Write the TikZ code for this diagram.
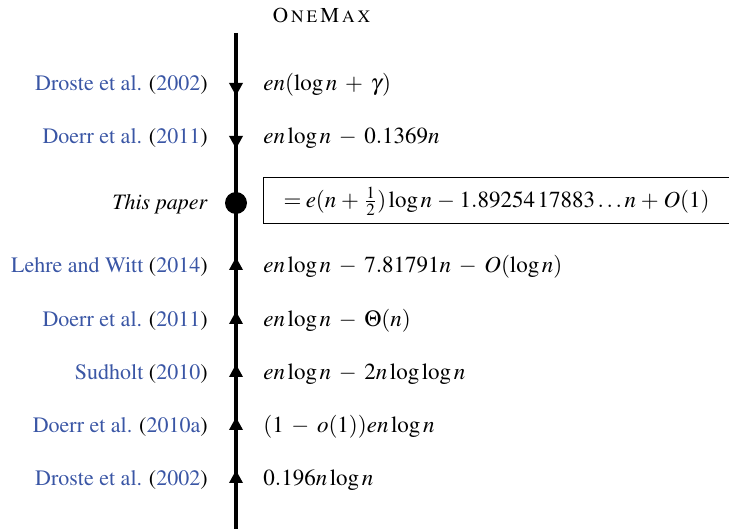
\documentclass[tikz,border=0pt]{standalone}
\usepackage{amsmath}
\usepackage[T1]{fontenc}
\usepackage{mathptmx}
\usepackage{tikz}
\usetikzlibrary{arrows.meta}
\definecolor{citeblue}{HTML}{3A56A5}
\newcommand{\cit}[2]{\textcolor{citeblue}{#1} (\textcolor{citeblue}{#2})}
\newcommand{\titlebig}{\fontsize{10.6}{13}\selectfont}
\newcommand{\titlesmall}{\fontsize{8.7}{13}\selectfont}
\medmuskip=6mu plus 2mu minus 4mu
\tikzset{
  ref/.style={anchor=base east, font=\fontsize{11}{13}\selectfont, inner sep=0pt},
  bound/.style={anchor=base west, font=\fontsize{11.5}{13}\selectfont, inner sep=0pt},
  tip/.style={line width=2pt, -{Triangle[length=6.5pt,width=6.5pt]}}
}

\begin{document}
\begin{tikzpicture}[x=0.5pt, y=-0.5pt]
  \useasboundingbox (0,0) rectangle (729,529);

  % Title
  \node[anchor=base, inner sep=0pt] (title) at (321.5,23)
    {\titlebig O\kern1.5pt\titlesmall N\kern1.5pt E\kern1.5pt\titlebig M\kern1.5pt\titlesmall A\kern1.5pt X};

  % Axis
  \coordinate (top) at (236,33);
  \coordinate (bot) at (236,529);
  \draw[line width=2pt] (top) -- (bot);

  % Upper bounds
  \node[ref] (r1) at (208,91) {\cit{Droste et al.}{2002}};
  \node[bound] (b1) at (263,91) {$en(\log n+\gamma)$};
  \node[ref] (r2) at (208,144) {\cit{Doerr et al.}{2011}};
  \node[bound] (b2) at (263,144) {$en\log n-0.1369n$};
  \foreach \y in {96,149}
    \draw[tip] (236,\y-13) -- (236,\y);

  % This paper
  \node[ref] (r3) at (208,210) {\textit{This paper}};
  \node[circle, fill=black, inner sep=0pt, minimum size=11pt] (dot) at (236,203) {};
  \node[draw, line width=0.5pt, anchor=west, font=\fontsize{11.5}{13}\selectfont,
        text width=213pt, align=left, inner xsep=10pt, inner ysep=0pt,
        minimum height=23pt] (b3) at (263,201)
        {$=e(n+\tfrac12)\log n-1.89254\,17883\ldots n+O(1)$};

  % Lower bounds
  \node[ref] (r4) at (208,273) {\cit{Lehre and Witt}{2014}};
  \node[bound] (b4) at (263,273) {$en\log n-7.81791n-O(\log n)$};
  \node[ref] (r5) at (208,327) {\cit{Doerr et al.}{2011}};
  \node[bound] (b5) at (263,327) {$en\log n-\Theta(n)$};
  \node[ref] (r6) at (208,380) {\cit{Sudholt}{2010}};
  \node[bound] (b6) at (263,380) {$en\log n-2n\log\log n$};
  \node[ref] (r7) at (208,433) {\cit{Doerr et al.}{2010a}};
  \node[bound] (b7) at (263,433) {$(1-o(1))en\log n$};
  \node[ref] (r8) at (208,486) {\cit{Droste et al.}{2002}};
  \node[bound] (b8) at (263,486) {$0.196n\log n$};
  \foreach \y in {257,311,364,417,470}
    \draw[tip] (236,\y+13) -- (236,\y);
\end{tikzpicture}
\end{document}
